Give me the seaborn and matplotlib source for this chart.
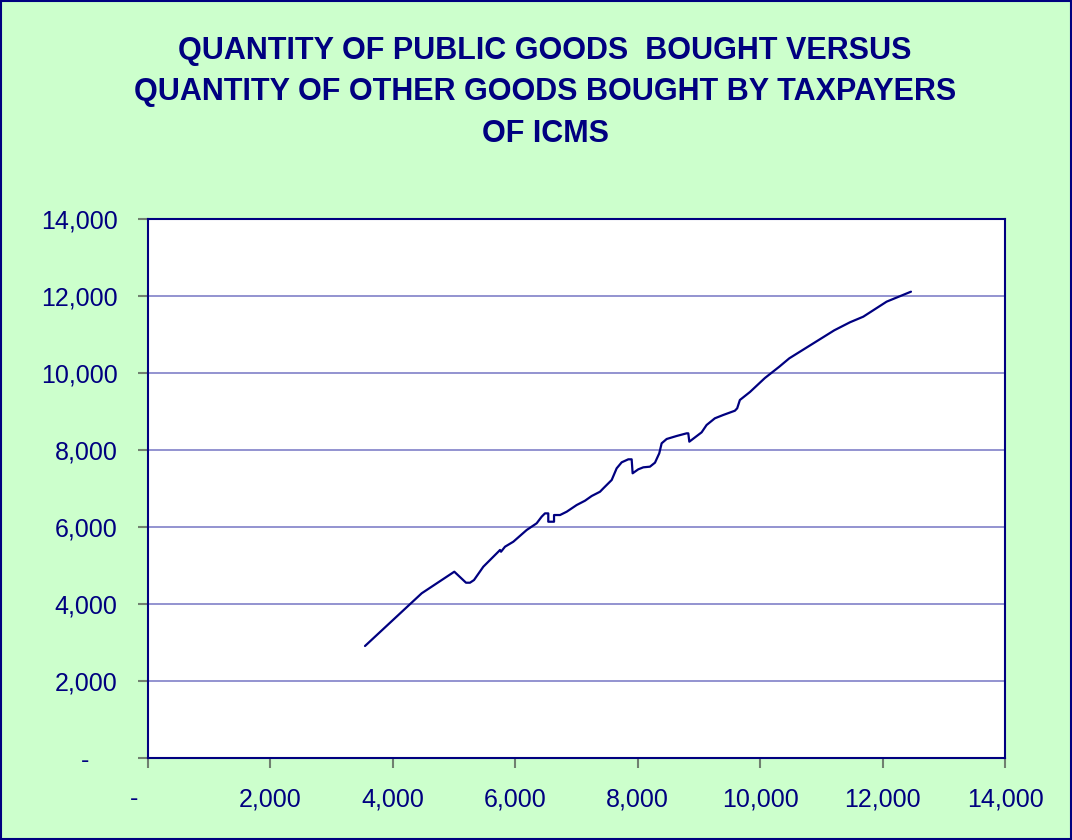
import matplotlib
matplotlib.use("Agg")
import matplotlib.pyplot as plt
import seaborn as sns
import pandas as pd
from matplotlib.ticker import FuncFormatter

other_goods = [3545, 4471, 5004, 5195, 5260, 5326, 5478, 5723, 5750, 5767, 5832, 5968,
               6186, 6349, 6431, 6485, 6539, 6539, 6633, 6633, 6731, 6840, 7003, 7139,
               7248, 7384, 7438, 7575, 7656, 7738, 7846, 7901, 7917, 8009, 8091, 8200,
               8282, 8352, 8391, 8473, 8636, 8799, 8826, 8843, 9044, 9125, 9260, 9396,
               9587, 9625, 9669, 9834, 10078, 10313, 10476, 11211, 11467, 11685, 12066,
               12464]
public_goods = [2909, 4278, 4839, 4553, 4553, 4623, 4969, 5358, 5403, 5358, 5488, 5618,
                5922, 6096, 6268, 6354, 6354, 6137, 6137, 6311, 6311, 6397, 6571, 6683,
                6805, 6916, 7004, 7221, 7524, 7680, 7758, 7758, 7395, 7498, 7550, 7567,
                7671, 7914, 8174, 8286, 8364, 8433, 8433, 8216, 8459, 8649, 8823, 8909,
                9020, 9083, 9299, 9507, 9870, 10164, 10381, 11109, 11317, 11463, 11853,
                12112]

ticks = [0, 2000, 4000, 6000, 8000, 10000, 12000, 14000]
title = ("QUANTITY OF PUBLIC GOODS  BOUGHT VERSUS\n"
         "QUANTITY OF OTHER GOODS BOUGHT BY TAXPAYERS\n"
         "OF ICMS")

df = pd.DataFrame({"other": other_goods, "public": public_goods})

sns.set_theme(style="white")
plt.rcParams["font.family"] = ["Liberation Sans", "DejaVu Sans"]

NAVY = "#000080"
fig = plt.figure(figsize=(10.72, 8.4), dpi=100, facecolor="#CCFFCC")
ax = fig.add_axes([148/1072, 1 - 758/840, 857/1072, 539/840])
ax.set_facecolor("white")

sns.lineplot(data=df, x="other", y="public", sort=False, estimator=None,
             color=NAVY, linewidth=1.6, ax=ax)

ax.set_xlim(0, 14000)
ax.set_ylim(0, 14000)
ax.set_xticks(ticks)
ax.set_yticks(ticks)
fmt = FuncFormatter(lambda v, p: "-    " if v == 0 else f"{int(v):,}")
ax.xaxis.set_major_formatter(fmt)
ax.yaxis.set_major_formatter(fmt)
ax.set_xlabel("")
ax.set_ylabel("")
ax.tick_params(axis="both", labelsize=18, labelcolor=NAVY, color="#708070",
               direction="out", length=7, width=1.5, bottom=True, left=True)
ax.tick_params(axis="x", pad=14)
ax.tick_params(axis="y", pad=15)
ax.yaxis.grid(True, color="#8080C8", linewidth=1.2)
ax.xaxis.grid(False)
ax.set_axisbelow(True)
for s in ax.spines.values():
    s.set_color(NAVY)
    s.set_linewidth(1.5)

fig.text(545/1072, 1 - 92/840, title, ha="center", va="center",
         fontsize=22, fontweight="bold", color=NAVY, linespacing=1.5)

# figure border
fig.patches.append(plt.Rectangle((0.001, 0.001), 0.998, 0.998, transform=fig.transFigure,
                                 fill=False, edgecolor=NAVY, linewidth=1.5))

fig.savefig("out.png", dpi=100, facecolor=fig.get_facecolor())
